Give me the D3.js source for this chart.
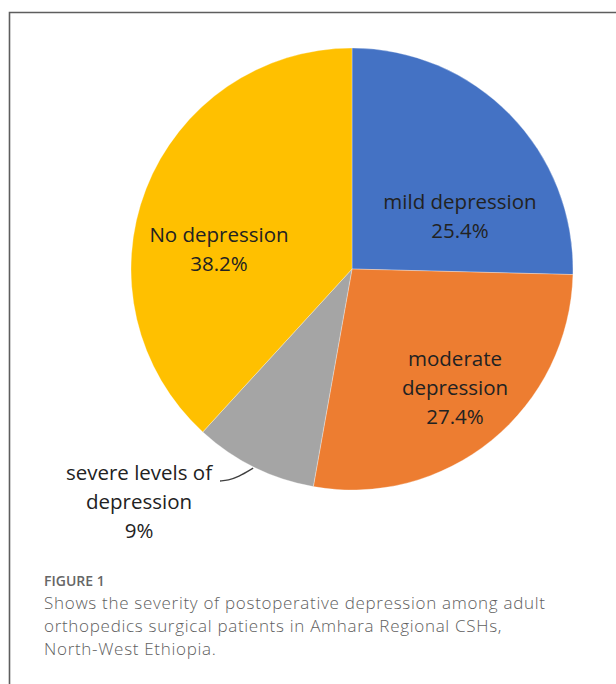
<!DOCTYPE html>
<html>
<head>
<meta charset="utf-8">
<script src="https://cdn.jsdelivr.net/npm/d3@7"></script>
<style>
  body { margin: 0; background: #fff; }
  svg { display: block; }
</style>
</head>
<body>
<div id="chart"></div>
<script>
// Chart data (clockwise from 12 o'clock)
const categories = ["mild depression", "moderate depression", "severe levels of depression", "No depression"];
const values = [25.4, 27.4, 9, 38.2];
const valueLabels = ["25.4%", "27.4%", "9%", "38.2%"];
const labelLines = [
  ["mild depression", "25.4%"],
  ["moderate", "depression", "27.4%"],
  ["severe levels of", "depression", "9%"],
  ["No depression", "38.2%"]
];
const colors = ["#4472C4", "#ED7D31", "#A5A5A5", "#FFC000"];
const figureLabel = "FIGURE 1";
const captionLines = [
  "Shows the severity of postoperative depression among adult",
  "orthopedics surgical patients in Amhara Regional CSHs,",
  "North-West Ethiopia."
];

//Chart Variables and Constants
const width = 616;
const height = 684;
const cx = 352;
const cy = 269;
const radius = 221;
const lineGap = 29;

const svg = d3
  .select("#chart")
  .append("svg")
  .attr("width", width)
  .attr("height", height);

//Frame (open at right and bottom, like the cropped figure box)
svg
  .append("path")
  .attr("d", `M9.5,${height} L9.5,12.5 L${width},12.5`)
  .attr("fill", "none")
  .attr("stroke", "#5e5e5e")
  .attr("stroke-width", 1.6);

const pieData = categories.map((c, i) => ({
  category: c,
  value: values[i],
  label: valueLabels[i],
  lines: labelLines[i],
  color: colors[i]
}));

const pie = d3.pie().sort(null).value((d) => d.value);
const arcs = pie(pieData);

const arc = d3.arc().innerRadius(0).outerRadius(radius);
const edgeArc = d3.arc().innerRadius(radius).outerRadius(radius);

const chartGroup = svg.append("g").attr("transform", `translate(${cx}, ${cy})`);

//Slices
chartGroup
  .selectAll("path.slice")
  .data(arcs)
  .enter()
  .append("path")
  .attr("class", "slice")
  .attr("d", arc)
  .attr("fill", (d) => d.data.color)
  .attr("stroke", "rgba(255,255,255,0.3)")
  .attr("stroke-width", 1);

//Label positions (page coords -> pie coords)
const labelPos = [
  [460 - cx, 202 - cy],
  [455 - cx, 359 - cy],
  [139 - cx, 473 - cy],
  [219 - cx, 235 - cy]
];

//Leader line for the severe slice
const edge = edgeArc.centroid(arcs[2]);
chartGroup
  .append("path")
  .attr("d", d3.line().curve(d3.curveBasis)([
    [edge[0] - 1, edge[1] + 1],
    [edge[0] - 16, edge[1] + 10],
    [edge[0] - 26, edge[1] + 13],
    [220 - cx, 481 - cy]
  ]))
  .attr("fill", "none")
  .attr("stroke", "#404040")
  .attr("stroke-width", 1.3);

//Slice labels
arcs.forEach((d, i) => {
  const t = chartGroup
    .append("text")
    .attr("x", labelPos[i][0])
    .attr("y", labelPos[i][1])
    .attr("text-anchor", "middle")
    .attr("font-family", "'Open Sans', sans-serif")
    .attr("font-size", "20.5px")
    .attr("fill", "#222");
  d.data.lines.forEach((line, j) => {
    t.append("tspan")
      .attr("x", labelPos[i][0])
      .attr("y", labelPos[i][1] + j * lineGap)
      .attr("dy", "0.35em")
      .text(line);
  });
});

//Figure caption
svg
  .append("text")
  .attr("x", 44)
  .attr("y", 586)
  .attr("font-family", "'Open Sans', sans-serif")
  .attr("font-size", "14px")
  .attr("font-weight", 600)
  .attr("fill", "#666")
  .text(figureLabel);

svg
  .append("g")
  .selectAll("text")
  .data(captionLines)
  .enter()
  .append("text")
  .attr("x", 44)
  .attr("y", (d, i) => 609 + i * 23)
  .attr("font-family", "'Open Sans', sans-serif")
  .attr("font-size", "17px")
  .attr("font-weight", 300)
  .attr("letter-spacing", "0.7px")
  .attr("fill", "#606060")
  .text((d) => d);
</script>
</body>
</html>
